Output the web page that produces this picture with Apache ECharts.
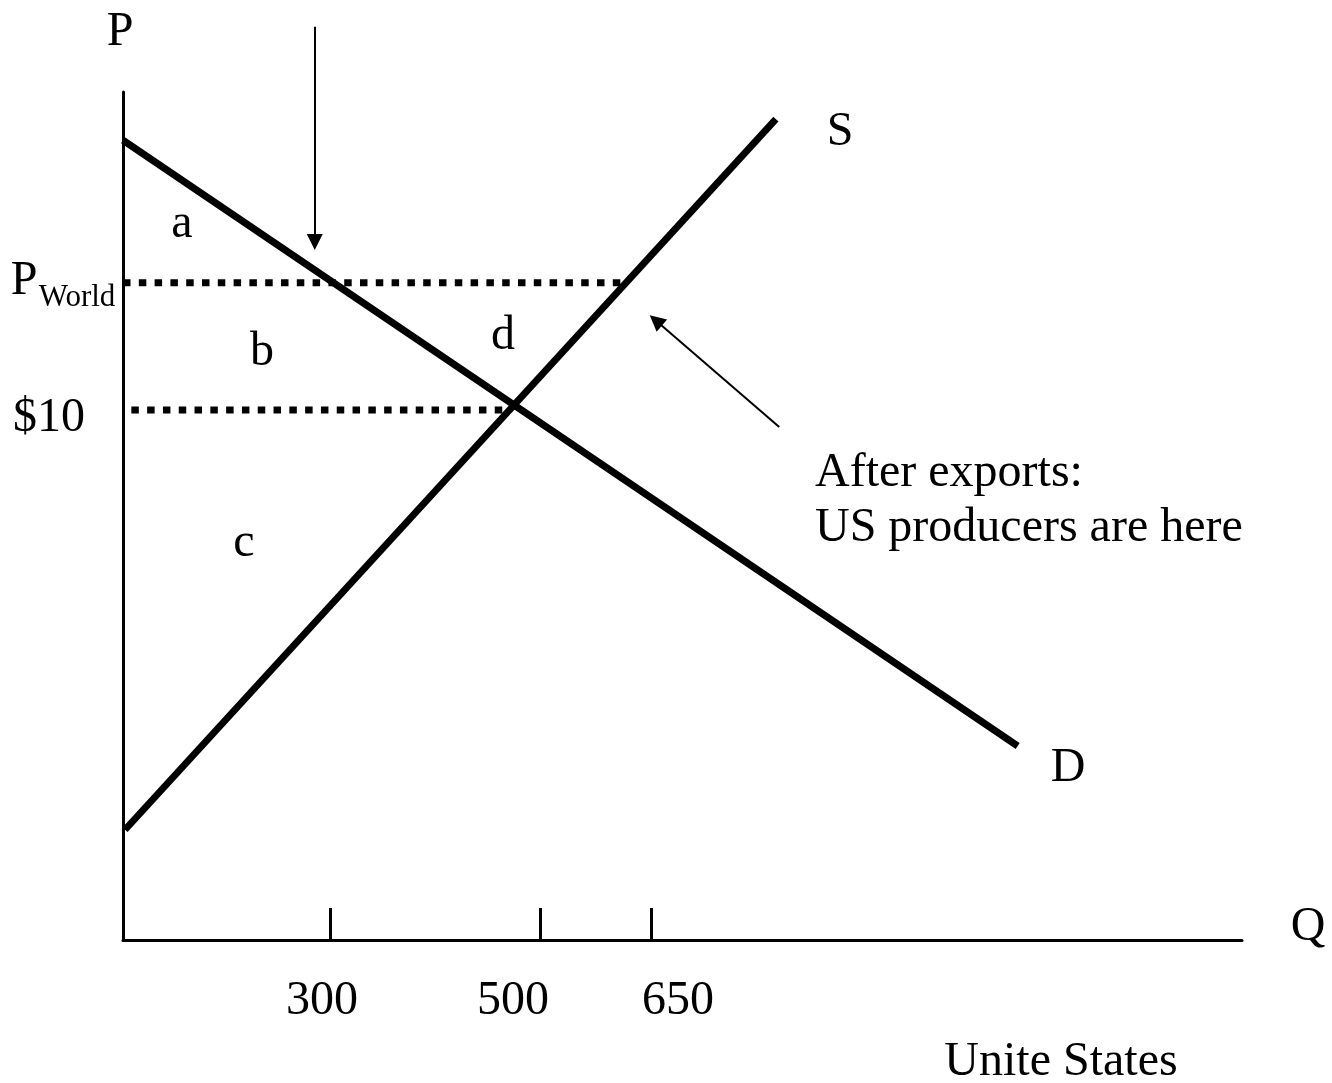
<!DOCTYPE html>
<html>
<head>
<meta charset="utf-8">
<style>
  html, body { margin: 0; padding: 0; background: #ffffff; }
  #chart { width: 1332px; height: 1083px; }
</style>
<script src="https://cdn.jsdelivr.net/npm/echarts@6/dist/echarts.min.js"></script>
</head>
<body>
<div id="chart"></div>
<script>
// ---- data (diagram units: quantity on x, price on y) ----
const quantityTickValues = [249, 500, 633];
const quantityTickLabels = ['300', '500', '650'];

const demandQ = [0, 1073];
const demandP = [15.09, 3.66];

const supplyQ = [2.4, 783];
const supplyP = [2.08, 15.49];

const pWorld = 12.4;
const pWorldQ = [0, 602];

const pTen = 10;
const pTenQ = [10, 464];

const arrowDownQ = [230, 230];
const arrowDownP = [17.23, 13.17];

const arrowDiagQ = [787, 639];
const arrowDiagP = [9.68, 11.69];

const priceLabels = ['$10'];
const areaLabels = ['a', 'b', 'c', 'd'];
const curveLabels = ['S', 'D'];
const noteLines = ['After exports:', 'US producers are here'];
const countryTitle = 'Unite States';

// ---- chart ----
const FONT = '"Liberation Serif", "Times New Roman", serif';
const chart = echarts.init(document.getElementById('chart'), null, { renderer: 'canvas' });

function pts(qs, ps) { return qs.map((q, i) => [q, ps[i]]); }

function txt(text, x, y, size, align) {
  return {
    type: 'text', x: x, y: y, z: 100,
    style: {
      text: text, fill: '#000', fontSize: size, fontFamily: FONT,
      align: align || 'center', verticalAlign: 'middle'
    }
  };
}

const option = {
  backgroundColor: '#ffffff',
  animation: false,
  grid: { left: 123, right: 90, top: 92, bottom: 143, containLabel: false },
  xAxis: {
    type: 'value', min: 0, max: 1342,
    axisLine: { show: true, onZero: false, lineStyle: { color: '#000', width: 3 } },
    axisTick: { show: true, inside: true, length: 32, customValues: quantityTickValues,
                lineStyle: { color: '#000', width: 3 } },
    axisLabel: { show: false },
    splitLine: { show: false }
  },
  yAxis: {
    type: 'value', min: 0, max: 16,
    axisLine: { show: true, lineStyle: { color: '#000', width: 3 } },
    axisTick: { show: false },
    axisLabel: { show: false },
    splitLine: { show: false }
  },
  series: [
    {
      name: 'Demand', type: 'line', data: pts(demandQ, demandP),
      symbol: 'none', lineStyle: { color: '#000', width: 7, cap: 'butt' }, z: 5
    },
    {
      name: 'Supply', type: 'line', data: pts(supplyQ, supplyP),
      symbol: 'none', lineStyle: { color: '#000', width: 7, cap: 'butt' }, z: 5
    },
    {
      name: 'P World', type: 'line', data: pWorldQ.map(q => [q, pWorld]),
      symbol: 'none', lineStyle: { color: '#000', width: 7, type: [7.5, 8.3], cap: 'butt' }, z: 4
    },
    {
      name: '$10', type: 'line', data: pTenQ.map(q => [q, pTen]),
      symbol: 'none', lineStyle: { color: '#000', width: 7, type: [7.5, 8.3], cap: 'butt' }, z: 4
    },
    {
      name: 'arrows', type: 'lines', coordinateSystem: 'cartesian2d', clip: false,
      symbol: ['none', 'triangle'], symbolSize: 16,
      lineStyle: { color: '#000', width: 2, opacity: 1, curveness: 0 },
      data: [
        { coords: pts(arrowDownQ, arrowDownP) },
        { coords: pts(arrowDiagQ, arrowDiagP) }
      ],
      z: 6
    }
  ],
  graphic: [
    txt('P', 120, 32, 48),
    txt('Q', 1308, 927, 48),
    txt('P', 24, 281, 48),
    txt('World', 77, 298, 31),
    txt(priceLabels[0], 49, 418, 48),
    txt(areaLabels[0], 182, 224, 48),
    txt(areaLabels[1], 262, 352, 48),
    txt(areaLabels[2], 244, 543, 48),
    txt(areaLabels[3], 503, 336, 48),
    txt(curveLabels[0], 840, 132, 48),
    txt(curveLabels[1], 1068, 768, 48),
    txt(quantityTickLabels[0], 322, 1001, 48),
    txt(quantityTickLabels[1], 513, 1001, 48),
    txt(quantityTickLabels[2], 678, 1001, 48),
    txt(noteLines[0], 815, 473, 48, 'left'),
    txt(noteLines[1], 815, 528, 48, 'left'),
    txt(countryTitle, 1061, 1062, 48)
  ]
};
chart.setOption(option);
</script>
</body>
</html>
